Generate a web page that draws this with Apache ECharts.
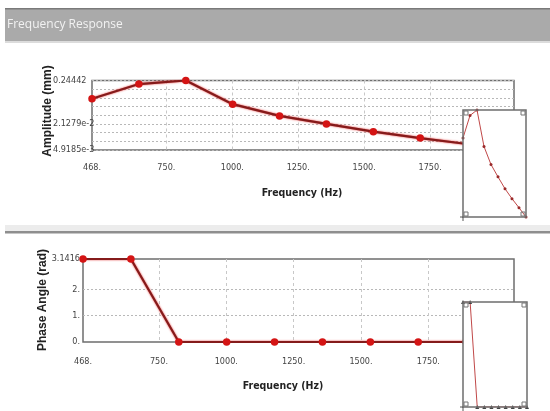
<!DOCTYPE html>
<html><head><meta charset="utf-8">
<script src="https://cdn.jsdelivr.net/npm/echarts@6.0.0/dist/echarts.min.js"></script>
<style>html,body{margin:0;padding:0;background:#fff}#c{width:550px;height:411px}</style>
</head><body><div id="c"></div>
<script>
const frequency = [468, 645.8, 823.6, 1001.3, 1179.1, 1356.9, 1534.7, 1712.4, 1890.2, 2068];
const amplitude = [0.088, 0.2, 0.24442, 0.0646, 0.0334, 0.021279, 0.0138, 0.0096, 0.0069, 0.0049185];
const phase = [3.1416, 3.1416, 0, 0, 0, 0, 0, 0, 0, 0];
const freqTicks = [468, 750, 1000, 1250, 1500, 1750];
const ampTickValues = [0.0049186, 0.021279, 0.24441];
const ampTickLabels = ['4.9185e-3', '2.1279e-2', '0.24442'];
const phaseTickValues = [0, 1, 2, 3.1416];
const phaseTickLabels = ['0.', '1.', '2.', '3.1416'];
const freqMin = 468, freqMax = 2068;
const ampMin = 0.0049185, ampMax = 0.24442;
const phaseMin = 0, phaseMax = 3.1416;

const chart = echarts.init(document.getElementById('c'), null, {renderer: 'canvas'});
const ampData = frequency.map((f, i) => [f, amplitude[i]]);
const phaseData = frequency.map((f, i) => [f, phase[i]]);

function nearestLabel(v, vals, labs, log) {
  let best = 0, bd = Infinity;
  vals.forEach((t, i) => {
    const d = log ? Math.abs(Math.log(t) - Math.log(v)) : Math.abs(t - v);
    if (d < bd) { bd = d; best = i; }
  });
  return labs[best];
}

const tickFont = {fontSize: 9, color: '#444', fontFamily: "'Liberation Sans Narrow', 'DejaVu Sans Condensed', sans-serif"};
const hiddenAxis = {show: false};

const grids = [
  {left: 92, top: 80.5, width: 422, height: 69.5, show: true, borderColor: '#6e6e6e', borderWidth: 1.5, backgroundColor: 'transparent'},
  {left: 463, top: 110, width: 63, height: 107, show: false},
  {left: 83, top: 259, width: 431, height: 83, show: true, borderColor: '#6e6e6e', borderWidth: 1.5, backgroundColor: 'transparent'},
  {left: 463, top: 302, width: 64, height: 105, show: false}
];

const mainX = (gi, margin) => ({
  type: 'value', gridIndex: gi, min: freqMin, max: freqMax,
  axisLine: {show: false},
  axisTick: {show: false, customValues: freqTicks.slice(1)},
  axisLabel: Object.assign({customValues: freqTicks, margin: margin, formatter: v => v + '.'}, tickFont),
  splitLine: {show: true, lineStyle: {color: '#c8c8c8', type: [3, 3], width: 1}}
});

const mainLine = {color: '#851b1b', width: 2.2, shadowColor: 'rgba(225,30,30,0.9)', shadowBlur: 2};

const option = {
  animation: false,
  grid: grids,
  xAxis: [
    mainX(0, 13),
    Object.assign({type: 'value', gridIndex: 1, min: freqMin, max: freqMax}, hiddenAxis),
    mainX(2, 15),
    Object.assign({type: 'value', gridIndex: 3, min: freqMin, max: freqMax}, hiddenAxis)
  ],
  yAxis: [
    {type: 'log', logBase: 10, gridIndex: 0, min: ampMin, max: ampMax,
     axisLine: {show: false}, axisTick: {show: false}, splitLine: {show: false},
     axisLabel: Object.assign({customValues: ampTickValues, align: 'left', margin: 39,
       formatter: v => nearestLabel(v, ampTickValues, ampTickLabels, true)}, tickFont)},
    {type: 'value', gridIndex: 0, min: 0, max: 8, interval: 1, position: 'right',
     axisLine: {show: false}, axisTick: {show: false}, axisLabel: {show: false},
     splitLine: {show: true, lineStyle: {color: '#b8b8b8', type: [2, 2], width: 1}}},
    Object.assign({type: 'log', logBase: 10, gridIndex: 1, min: ampMin, max: ampMax}, hiddenAxis),
    {type: 'value', gridIndex: 2, min: phaseMin, max: phaseMax,
     axisLine: {show: false},
     axisTick: {show: false, customValues: [1, 2]},
     splitLine: {show: true, lineStyle: {color: '#b8b8b8', type: [2, 2], width: 1}},
     axisLabel: Object.assign({customValues: phaseTickValues, align: 'right', margin: 3,
       formatter: v => nearestLabel(v, phaseTickValues, phaseTickLabels, false)}, tickFont)},
    Object.assign({type: 'value', gridIndex: 3, min: phaseMin, max: phaseMax}, hiddenAxis)
  ],
  series: [
    {type: 'line', xAxisIndex: 0, yAxisIndex: 0, data: ampData, z: 5,
     symbol: 'circle', symbolSize: 7.5, itemStyle: {color: '#d41414'},
     lineStyle: mainLine},
    {type: 'line', xAxisIndex: 1, yAxisIndex: 2, data: ampData, z: 110,
     symbol: 'circle', symbolSize: 3, itemStyle: {color: '#9a2a2a'},
     lineStyle: {color: '#c04848', width: 1}},
    {type: 'line', xAxisIndex: 2, yAxisIndex: 3, data: phaseData, z: 5,
     symbol: 'circle', symbolSize: 7.5, itemStyle: {color: '#d41414'},
     lineStyle: mainLine},
    {type: 'line', xAxisIndex: 3, yAxisIndex: 4, data: phaseData, z: 110,
     symbol: 'triangle', symbolSize: 4, itemStyle: {color: '#444'},
     lineStyle: {color: '#c04848', width: 1}}
  ],
  graphic: []
};

const g = option.graphic;
// header bar
g.push({type: 'rect', shape: {x: 5, y: 8, width: 545, height: 34}, style: {fill: '#aaaaaa'}, z: 1});
g.push({type: 'rect', shape: {x: 5, y: 8, width: 545, height: 1.5}, style: {fill: '#7a7a7a'}, z: 1});
g.push({type: 'rect', shape: {x: 5, y: 41, width: 545, height: 2}, style: {fill: '#dcdcdc'}, z: 1});
g.push({type: 'text', x: 7, y: 25, z: 2, style: {text: 'Frequency Response', fill: '#f2f2f2',
  font: "12px 'Open Sans', sans-serif", align: 'left', verticalAlign: 'middle'}});
// divider
g.push({type: 'rect', shape: {x: 5, y: 225, width: 545, height: 6}, style: {fill: '#ececec'}, z: 1});
g.push({type: 'rect', shape: {x: 5, y: 231, width: 545, height: 2.5}, style: {fill: '#8e8e8e'}, z: 1});
// axis titles
const titleFont = "bold 12px 'Liberation Sans', Arial, sans-serif";
const xTitleFont = "bold 10.5px 'Liberation Sans Narrow', 'DejaVu Sans Condensed', sans-serif";
g.push({type: 'text', x: 48, y: 111, rotation: Math.PI / 2, z: 2, style: {text: 'Amplitude (mm)', fill: '#222', font: titleFont, align: 'center', verticalAlign: 'middle'}});
g.push({type: 'text', x: 43, y: 300, rotation: Math.PI / 2, z: 2, style: {text: 'Phase Angle (rad)', fill: '#222', font: titleFont, align: 'center', verticalAlign: 'middle'}});
g.push({type: 'text', x: 302, y: 193, z: 2, style: {text: 'Frequency (Hz)', fill: '#222', font: xTitleFont, align: 'center', verticalAlign: 'middle'}});
g.push({type: 'text', x: 283, y: 386, z: 2, style: {text: 'Frequency (Hz)', fill: '#222', font: xTitleFont, align: 'center', verticalAlign: 'middle'}});

// insets
function inset(gr) {
  const x = gr.left, y = gr.top, w = gr.width, h = gr.height;
  g.push({type: 'rect', shape: {x: x, y: y, width: w, height: h}, style: {fill: '#fff'}, z: 100});
  g.push({type: 'rect', shape: {x: x, y: y, width: w, height: h}, style: {fill: 'none', stroke: '#6e6e6e', lineWidth: 1.5}, z: 120});
  const s = 4;
  [[x + 1, y + 1], [x + w - s - 1, y + 1], [x + 1, y + h - s - 1], [x + w - s - 1, y + h - s - 1]].forEach(p => {
    g.push({type: 'rect', shape: {x: p[0], y: p[1], width: s, height: s}, style: {fill: 'none', stroke: '#777', lineWidth: 1}, z: 121});
  });
  g.push({type: 'line', shape: {x1: x, y1: y + h, x2: x, y2: y + h + 4}, style: {stroke: '#555', lineWidth: 1}, z: 121});
  g.push({type: 'line', shape: {x1: x - 3, y1: y + h, x2: x, y2: y + h}, style: {stroke: '#555', lineWidth: 1}, z: 121});
}
inset(grids[1]);
inset(grids[3]);

chart.setOption(option);
</script></body></html>
